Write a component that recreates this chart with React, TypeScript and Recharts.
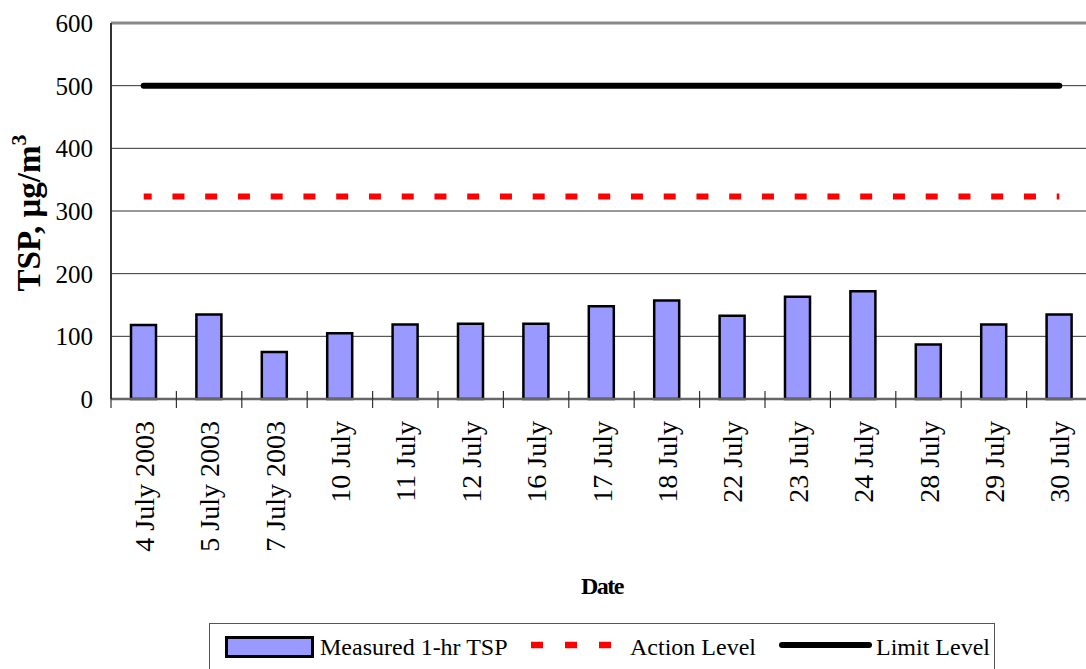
import React from 'react';
import { ComposedChart, Bar, Line, XAxis, YAxis, CartesianGrid, ReferenceLine } from 'recharts';

const dates = ['4 July 2003', '5 July 2003', '7 July 2003', '10 July', '11 July', '12 July', '16 July', '17 July', '18 July', '22 July', '23 July', '24 July', '28 July', '29 July', '30 July'];
const measuredTsp = [118, 135, 75, 105, 119, 120, 120, 148, 157, 133, 163, 172, 87, 119, 135];
const actionLevel = [323, 323, 323, 323, 323, 323, 323, 323, 323, 323, 323, 323, 323, 323, 323];
const limitLevel = [500, 500, 500, 500, 500, 500, 500, 500, 500, 500, 500, 500, 500, 500, 500];
const yTicks = [0, 100, 200, 300, 400, 500, 600];
const seriesNames = ['Measured 1-hr TSP', 'Action Level', 'Limit Level'];

const data = dates.map((d, i) => ({
  date: d,
  tsp: measuredTsp[i],
  action: actionLevel[i],
  limit: limitLevel[i],
}));

const FONT = "'Liberation Serif', 'Times New Roman', serif";

const XTick = (props: any) => {
  const { x, y, payload } = props;
  const half = payload && payload.offset ? payload.offset : 32.7;
  const bx = x - half;
  const tx = x + 10;
  const ty = y + 22;
  return (
    <g>
      <line x1={bx} x2={bx} y1={y - 8} y2={y + 9} stroke="#333" strokeWidth={1.2} />
      <text x={tx} y={ty} transform={`rotate(-90, ${tx}, ${ty})`} textAnchor="end" fontFamily={FONT} fontSize={28} fill="#000">
        {payload.value}
      </text>
    </g>
  );
};

const YTick = (props: any) => {
  const { x, y, payload } = props;
  return (
    <text x={x - 18} y={y} dy="0.36em" textAnchor="end" fontFamily={FONT} fontSize={25} fill="#000">
      {payload.value}
    </text>
  );
};

const YLabel = () => {
  const cx = 40;
  const cy = 213;
  return (
    <text x={cx} y={cy} transform={`rotate(-90, ${cx}, ${cy})`} textAnchor="middle" fontFamily={FONT} fontSize={33} fontWeight="bold" fill="#000">
      <tspan>TSP, μg/m</tspan>
      <tspan fontSize={22} dy={-14}>3</tspan>
    </text>
  );
};

const XLabel = () => (
  <text x={602} y={594} textAnchor="middle" fontFamily={FONT} fontSize={24} fontWeight="bold" letterSpacing={-1.5} fill="#000">
    Date
  </text>
);

const legendText: React.CSSProperties = {
  position: 'absolute',
  top: 10,
  fontFamily: FONT,
  fontSize: 24,
  lineHeight: '26px',
  color: '#000',
  whiteSpace: 'nowrap',
};

export default function App() {
  return (
    <div style={{ position: 'absolute', left: 0, top: 0, width: 1086, height: 669, overflow: 'hidden', background: '#fff' }}>
      <ComposedChart width={1100} height={669} data={data} margin={{ top: 23, right: 8, left: 0, bottom: 0 }}>
        <CartesianGrid horizontal={true} vertical={false} stroke="#333" strokeWidth={1} />
        <XAxis
          dataKey="date"
          interval={0}
          height={270}
          tickSize={0}
          tickMargin={0}
          tickLine={false}
          axisLine={{ stroke: '#666', strokeWidth: 2.5 }}
          tick={<XTick />}
          label={<XLabel />}
        />
        <YAxis
          domain={[0, 600]}
          ticks={yTicks}
          width={111}
          tickSize={0}
          tickMargin={0}
          tickLine={false}
          axisLine={{ stroke: '#333', strokeWidth: 2 }}
          tick={<YTick />}
          label={<YLabel />}
        />
        <ReferenceLine y={600} stroke="#888" strokeWidth={3} />
        <Bar dataKey="tsp" name={seriesNames[0]} fill="#9999FF" stroke="#000" strokeWidth={2.5} barSize={25} isAnimationActive={false} />
        <Line dataKey="action" name={seriesNames[1]} stroke="#FF0000" strokeWidth={6} strokeDasharray="12 20.75" strokeDashoffset={4} strokeLinecap="butt" dot={false} activeDot={false} isAnimationActive={false} />
        <Line dataKey="limit" name={seriesNames[2]} stroke="#000" strokeWidth={6} strokeLinecap="round" dot={false} activeDot={false} isAnimationActive={false} />
      </ComposedChart>
      <div style={{ position: 'absolute', left: 209, top: 623, width: 786, height: 60, border: '1.5px solid #555', boxSizing: 'border-box', background: '#fff' }}>
        <div style={{ position: 'absolute', left: 15, top: 12, width: 83, height: 16, background: '#9999FF', border: '3px solid #000' }} />
        <div style={{ ...legendText, left: 110 }}>{seriesNames[0]}</div>
        <svg style={{ position: 'absolute', left: 318, top: 16 }} width={90} height={10}>
          <line x1={3} x2={90} y1={5} y2={5} stroke="#FF0000" strokeWidth={6.5} strokeDasharray="12 22" />
        </svg>
        <div style={{ ...legendText, left: 420 }}>{seriesNames[1]}</div>
        <svg style={{ position: 'absolute', left: 568, top: 15 }} width={96} height={12}>
          <line x1={4} x2={91} y1={6} y2={6} stroke="#000" strokeWidth={6} strokeLinecap="round" />
        </svg>
        <div style={{ ...legendText, left: 666 }}>{seriesNames[2]}</div>
      </div>
    </div>
  );
}
